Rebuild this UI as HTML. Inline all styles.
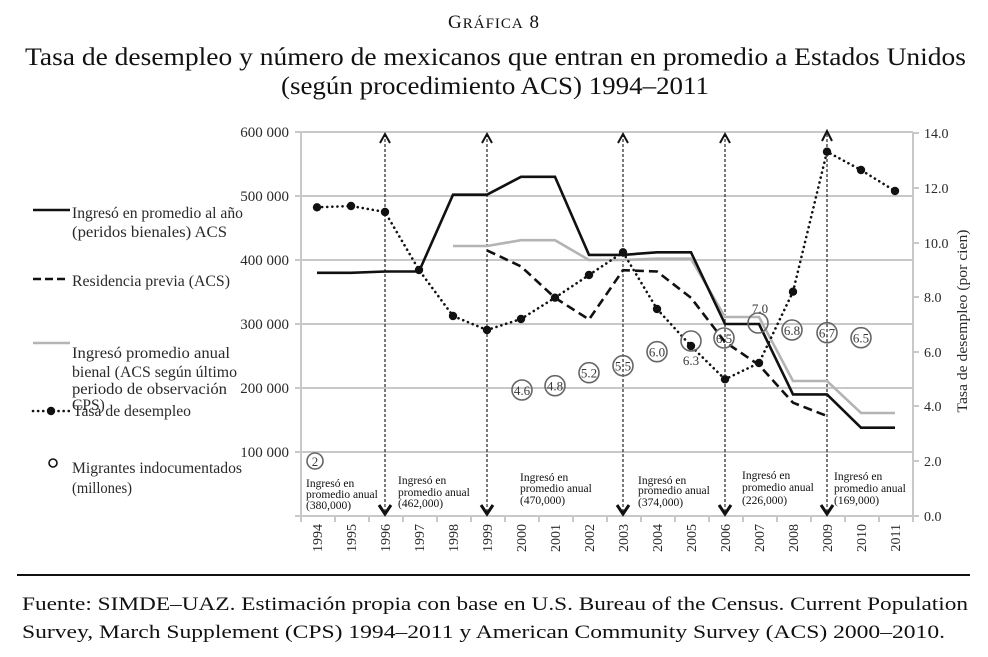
<!DOCTYPE html>
<html><head><meta charset="utf-8"><style>
html,body{margin:0;padding:0;background:#fff;}
svg{display:block;}
text{font-family:"Liberation Serif","DejaVu Serif",serif;}
</style></head><body>
<svg width="988" height="657" viewBox="0 0 988 657" xmlns="http://www.w3.org/2000/svg">
<rect width="988" height="657" fill="#fff"/>
<!-- Titles -->
<text x="494" y="28" text-anchor="middle" font-size="19" letter-spacing="1" fill="#111">G<tspan font-size="15">RÁFICA</tspan> 8</text>
<text x="25" y="65" font-size="25" textLength="941" lengthAdjust="spacingAndGlyphs" fill="#111">Tasa de desempleo y número de mexicanos que entran en promedio a Estados Unidos</text>
<text x="281" y="94" font-size="25" textLength="428" lengthAdjust="spacingAndGlyphs" fill="#111">(según procedimiento ACS) 1994–2011</text>

<!-- Gridlines -->
<g stroke="#c8c8c8" stroke-width="2">
<line x1="301" y1="132" x2="913" y2="132"/>
<line x1="301" y1="196" x2="913" y2="196"/>
<line x1="301" y1="260" x2="913" y2="260"/>
<line x1="301" y1="324" x2="913" y2="324"/>
<line x1="301" y1="388" x2="913" y2="388"/>
<line x1="301" y1="452" x2="913" y2="452"/>
<line x1="295" y1="516" x2="919" y2="516"/>
<line x1="301" y1="132" x2="301" y2="522"/>
<line x1="913" y1="132" x2="913" y2="516"/>
<line x1="295" y1="132" x2="301" y2="132"/>
<line x1="295" y1="196" x2="301" y2="196"/>
<line x1="295" y1="260" x2="301" y2="260"/>
<line x1="295" y1="324" x2="301" y2="324"/>
<line x1="295" y1="388" x2="301" y2="388"/>
<line x1="295" y1="452" x2="301" y2="452"/>
<line x1="913" y1="133" x2="919" y2="133"/>
<line x1="913" y1="188" x2="919" y2="188"/>
<line x1="913" y1="243" x2="919" y2="243"/>
<line x1="913" y1="297" x2="919" y2="297"/>
<line x1="913" y1="352" x2="919" y2="352"/>
<line x1="913" y1="406" x2="919" y2="406"/>
<line x1="913" y1="461" x2="919" y2="461"/>
<line x1="335" y1="516" x2="335" y2="522"/>
<line x1="369" y1="516" x2="369" y2="522"/>
<line x1="403" y1="516" x2="403" y2="522"/>
<line x1="437" y1="516" x2="437" y2="522"/>
<line x1="471" y1="516" x2="471" y2="522"/>
<line x1="505" y1="516" x2="505" y2="522"/>
<line x1="539" y1="516" x2="539" y2="522"/>
<line x1="573" y1="516" x2="573" y2="522"/>
<line x1="607" y1="516" x2="607" y2="522"/>
<line x1="641" y1="516" x2="641" y2="522"/>
<line x1="675" y1="516" x2="675" y2="522"/>
<line x1="709" y1="516" x2="709" y2="522"/>
<line x1="743" y1="516" x2="743" y2="522"/>
<line x1="777" y1="516" x2="777" y2="522"/>
<line x1="811" y1="516" x2="811" y2="522"/>
<line x1="845" y1="516" x2="845" y2="522"/>
<line x1="879" y1="516" x2="879" y2="522"/>
<line x1="913" y1="516" x2="913" y2="522"/>
</g>

<!-- Left axis labels -->
<g font-size="15" fill="#2a2a2a" text-anchor="end">
<text x="289" y="137">600 000</text>
<text x="289" y="201">500 000</text>
<text x="289" y="265">400 000</text>
<text x="289" y="329">300 000</text>
<text x="289" y="393">200 000</text>
<text x="289" y="457">100 000</text>
</g>
<!-- Right axis labels -->
<g font-size="14" fill="#2a2a2a">
<text x="924" y="138">14.0</text>
<text x="924" y="193">12.0</text>
<text x="924" y="248">10.0</text>
<text x="924" y="302">8.0</text>
<text x="924" y="357">6.0</text>
<text x="924" y="411">4.0</text>
<text x="924" y="466">2.0</text>
<text x="924" y="521">0.0</text>
</g>
<text transform="translate(967,321) rotate(-90)" text-anchor="middle" font-size="14.5" fill="#2a2a2a" textLength="183" lengthAdjust="spacingAndGlyphs">Tasa de desempleo (por cien)</text>

<!-- Year labels -->
<g font-size="14" fill="#2a2a2a" text-anchor="end">
<text transform="translate(322,524) rotate(-90)">1994</text>
<text transform="translate(356,524) rotate(-90)">1995</text>
<text transform="translate(390,524) rotate(-90)">1996</text>
<text transform="translate(424,524) rotate(-90)">1997</text>
<text transform="translate(458,524) rotate(-90)">1998</text>
<text transform="translate(492,524) rotate(-90)">1999</text>
<text transform="translate(526,524) rotate(-90)">2000</text>
<text transform="translate(560,524) rotate(-90)">2001</text>
<text transform="translate(594,524) rotate(-90)">2002</text>
<text transform="translate(628,524) rotate(-90)">2003</text>
<text transform="translate(662,524) rotate(-90)">2004</text>
<text transform="translate(696,524) rotate(-90)">2005</text>
<text transform="translate(730,524) rotate(-90)">2006</text>
<text transform="translate(764,524) rotate(-90)">2007</text>
<text transform="translate(798,524) rotate(-90)">2008</text>
<text transform="translate(832,524) rotate(-90)">2009</text>
<text transform="translate(866,524) rotate(-90)">2010</text>
<text transform="translate(900,524) rotate(-90)">2011</text>
</g>

<!-- Vertical arrows -->
<g stroke="#333" stroke-width="1.3" stroke-dasharray="3,2" fill="none">
<line x1="385" y1="134" x2="385" y2="512"/>
<line x1="487" y1="134" x2="487" y2="512"/>
<line x1="623" y1="134" x2="623" y2="512"/>
<line x1="725" y1="134" x2="725" y2="512"/>
<line x1="827" y1="134" x2="827" y2="512"/>
</g>
<g stroke="#111" stroke-width="2" fill="none">
<polyline points="380,143 385,134 390,143"/>
<polyline points="482,143 487,134 492,143"/>
<polyline points="618,143 623,134 628,143"/>
<polyline points="720,143 725,134 730,143"/>
<polyline points="822,141 827,131 832,141"/>
</g>
<g stroke="#111" stroke-width="3" fill="none">
<polyline points="379,505 385,514 391,505"/>
<polyline points="481,505 487,514 493,505"/>
<polyline points="617,505 623,514 629,505"/>
<polyline points="719,505 725,514 731,505"/>
<polyline points="821,505 827,514 833,505"/>
</g>

<!-- Gray series -->
<polyline fill="none" stroke="#b4b4b4" stroke-width="2.6" points="453,246 487,246 521,240.2 555,240.2 589,260 623,260 657,258.7 691,258.7 725,317 759,317 793,381 827,381 861,413 895,413"/>
<!-- Solid series -->
<polyline fill="none" stroke="#111" stroke-width="2.6" points="317,272.8 351,272.8 385,271.5 419,271.5 453,194.7 487,194.7 521,176.8 555,176.8 589,254.9 623,254.9 657,252.3 691,252.3 725,324 759,324 793,394.4 827,394.4 861,427.7 895,427.7"/>
<!-- Dashed series -->
<polyline fill="none" stroke="#111" stroke-width="2.6" stroke-dasharray="9,5" points="487,250.4 521,266.4 555,297.8 589,319.5 623,270.2 657,271.5 691,297.8 725,342 759,365 793,402.7 827,416"/>
<!-- Dotted series -->
<polyline fill="none" stroke="#111" stroke-width="2.6" stroke-dasharray="0.1,5" stroke-linecap="round" points="317,207.3 351,206 385,212 419,270 453,316 487,330 521,319 555,297.7 589,275 623,252.3 657,309 691,346 725,379.3 759,363 793,291.7 827,151.7 861,170 895,191"/>
<g fill="#111">
<circle cx="317" cy="207.3" r="4.2"/><circle cx="351" cy="206" r="4.2"/><circle cx="385" cy="212" r="4.2"/>
<circle cx="419" cy="270" r="4.2"/><circle cx="453" cy="316" r="4.2"/><circle cx="487" cy="330" r="4.2"/>
<circle cx="521" cy="319" r="4.2"/><circle cx="555" cy="297.7" r="4.2"/><circle cx="589" cy="275" r="4.2"/>
<circle cx="623" cy="252.3" r="4.2"/><circle cx="657" cy="309" r="4.2"/><circle cx="691" cy="346" r="4.2"/>
<circle cx="725" cy="379.3" r="4.2"/><circle cx="759" cy="363" r="4.2"/><circle cx="793" cy="291.7" r="4.2"/>
<circle cx="827" cy="151.7" r="4.2"/><circle cx="861" cy="170" r="4.2"/><circle cx="895" cy="191" r="4.2"/>
</g>

<!-- Migrant circles -->
<g fill="none" stroke="#666" stroke-width="1.6">
<circle cx="315" cy="461" r="8"/>
<circle cx="522" cy="390" r="10"/>
<circle cx="555" cy="385.7" r="10"/>
<circle cx="589" cy="372.7" r="10"/>
<circle cx="623" cy="365.7" r="10"/>
<circle cx="657" cy="351.7" r="10"/>
<circle cx="691" cy="341" r="10"/>
<circle cx="724" cy="338" r="10"/>
<circle cx="758" cy="323" r="10"/>
<circle cx="792" cy="330" r="10"/>
<circle cx="827" cy="332.7" r="10"/>
<circle cx="861" cy="337.7" r="10"/>
</g>
<g font-size="13" fill="#3a3a3a" text-anchor="middle">
<text x="315" y="466">2</text>
<text x="522" y="395">4.6</text>
<text x="555" y="390.5">4.8</text>
<text x="589" y="377.5">5.2</text>
<text x="623" y="370.5">5.5</text>
<text x="657" y="356.5">6.0</text>
<text x="691" y="365">6.3</text>
<text x="724" y="343">6.5</text>
<text x="760" y="313">7.0</text>
<text x="792" y="335">6.8</text>
<text x="827" y="337.5">6.7</text>
<text x="861" y="342.5">6.5</text>
</g>

<!-- Annotations -->
<g font-size="11.5" fill="#111">
<text x="306" y="487">Ingresó en</text><text x="306" y="498">promedio anual</text><text x="306" y="509">(380,000)</text>
<text x="398" y="484">Ingresó en</text><text x="398" y="496">promedio anual</text><text x="398" y="507">(462,000)</text>
<text x="520" y="481">Ingresó en</text><text x="520" y="492">promedio anual</text><text x="520" y="504">(470,000)</text>
<text x="638" y="484">Ingresó en</text><text x="638" y="494">promedio anual</text><text x="638" y="506">(374,000)</text>
<text x="742" y="479">Ingresó en</text><text x="742" y="491">promedio anual</text><text x="742" y="504">(226,000)</text>
<text x="834" y="480">Ingresó en</text><text x="834" y="492">promedio anual</text><text x="834" y="504">(169,000)</text>
</g>

<!-- Legend -->
<line x1="33" y1="210" x2="70" y2="210" stroke="#111" stroke-width="2.6"/>
<line x1="33" y1="279" x2="69" y2="279" stroke="#111" stroke-width="2.6" stroke-dasharray="8,4"/>
<line x1="33" y1="343" x2="70" y2="343" stroke="#b4b4b4" stroke-width="2.6"/>
<line x1="33" y1="411" x2="69" y2="411" stroke="#111" stroke-width="2.6" stroke-dasharray="0.1,5" stroke-linecap="round"/>
<circle cx="51" cy="411" r="4.2" fill="#111"/>
<circle cx="53" cy="463" r="4" fill="none" stroke="#111" stroke-width="1.6"/>
<g font-size="15.5" fill="#2a2a2a">
<text x="72" y="218" textLength="171" lengthAdjust="spacingAndGlyphs">Ingresó en promedio al año</text>
<text x="72" y="237" textLength="155" lengthAdjust="spacingAndGlyphs">(peridos bienales) ACS</text>
<text x="72" y="286" textLength="158" lengthAdjust="spacingAndGlyphs">Residencia previa (ACS)</text>
<text x="72" y="358" textLength="158" lengthAdjust="spacingAndGlyphs">Ingresó promedio anual</text>
<text x="72" y="377" textLength="165" lengthAdjust="spacingAndGlyphs">bienal (ACS según último</text>
<text x="72" y="394" textLength="155" lengthAdjust="spacingAndGlyphs">periodo de observación</text>
<text x="72" y="410">CPS)</text>
<text x="73" y="416" textLength="118" lengthAdjust="spacingAndGlyphs">Tasa de desempleo</text>
<text x="72" y="473" textLength="170" lengthAdjust="spacingAndGlyphs">Migrantes indocumentados</text>
<text x="72" y="493" textLength="60" lengthAdjust="spacingAndGlyphs">(millones)</text>
</g>

<!-- Footer -->
<line x1="17" y1="575" x2="970" y2="575" stroke="#111" stroke-width="2"/>
<g font-size="19" fill="#111">
<text x="22" y="610" textLength="946" lengthAdjust="spacingAndGlyphs">Fuente: SIMDE–UAZ. Estimación propia con base en U.S. Bureau of the Census. Current Population</text>
<text x="22" y="638" textLength="923" lengthAdjust="spacingAndGlyphs">Survey, March Supplement (CPS) 1994–2011 y American Community Survey (ACS) 2000–2010.</text>
</g>
</svg>
</body></html>
